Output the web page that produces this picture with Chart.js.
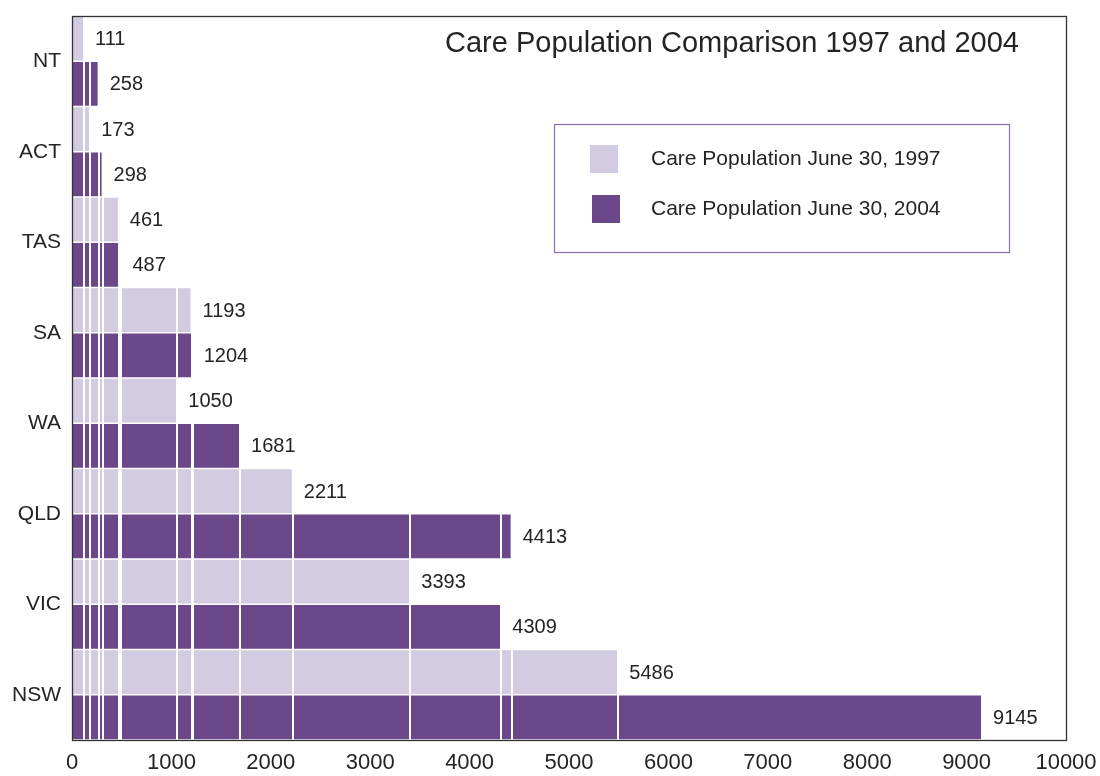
<!DOCTYPE html>
<html>
<head>
<meta charset="utf-8">
<script src="https://cdn.jsdelivr.net/npm/chart.js@4.4.1/dist/chart.umd.min.js"></script>
<style>
html,body{margin:0;padding:0;background:#ffffff;}
#wrap{width:1100px;height:776px;position:relative;}
</style>
</head>
<body>
<div id="wrap"><canvas id="c" width="1100" height="776"></canvas></div>
<script>
// ---- data ----
const categories = ['NT', 'ACT', 'TAS', 'SA', 'WA', 'QLD', 'VIC', 'NSW'];
const pop1997 = [111, 173, 461, 1193, 1050, 2211, 3393, 5486];
const pop2004 = [258, 298, 487, 1204, 1681, 4413, 4309, 9145];
const seriesLabels = ['Care Population June 30, 1997', 'Care Population June 30, 2004'];
const xTickValues = [0, 1000, 2000, 3000, 4000, 5000, 6000, 7000, 8000, 9000, 10000];
const titleText = 'Care Population Comparison 1997 and 2004';

// ---- styles ----
const colorLight = '#d2cbe1';
const colorDark = '#6c478a';
const textColor = '#242424';
const fontFamily = '"Liberation Sans", Arial, Helvetica, sans-serif';

const overlayPlugin = {
  id: 'overlay',
  afterDatasetsDraw(chart) {
    const ctx = chart.ctx;
    const a = chart.chartArea;
    const x = chart.scales.x;
    ctx.save();
    // white vertical lines at every data value
    const vals = [...pop1997, ...pop2004];
    ctx.strokeStyle = '#ffffff';
    ctx.lineWidth = 2;
    vals.forEach(v => {
      const px = Math.round(x.getPixelForValue(v)) + 1;
      ctx.beginPath();
      ctx.moveTo(px, a.top);
      ctx.lineTo(px, a.bottom);
      ctx.stroke();
    });
    // value labels
    ctx.fillStyle = textColor;
    ctx.font = '20px ' + fontFamily;
    ctx.textAlign = 'left';
    ctx.textBaseline = 'middle';
    chart.data.datasets.forEach((ds, i) => {
      const meta = chart.getDatasetMeta(i);
      meta.data.forEach((el, j) => {
        ctx.fillText(String(ds.data[j]), el.x + 12, el.y + 1);
      });
    });
    // title
    ctx.font = '29px ' + fontFamily;
    ctx.textAlign = 'center';
    ctx.fillText(titleText, a.left + 660, a.top + 28);
    // legend box
    const lx = a.left + 482, ly = a.top + 108, lw = 455, lh = 128;
    ctx.strokeStyle = '#8a6fa8';
    ctx.lineWidth = 1.2;
    ctx.strokeRect(lx + 0.5, ly + 0.5, lw, lh);
    ctx.font = '21px ' + fontFamily;
    ctx.textAlign = 'left';
    chart.data.datasets.forEach((ds, i) => {
      const sy = ly + 21 + i * 50;
      ctx.fillStyle = ds.backgroundColor;
      ctx.fillRect(lx + 36 + i * 2, sy, 28, 28);
      ctx.fillStyle = textColor;
      ctx.fillText(ds.label, lx + 97, sy + 14);
    });
    ctx.restore();
  },
  afterDraw(chart) {
    const ctx = chart.ctx;
    const a = chart.chartArea;
    ctx.save();
    ctx.strokeStyle = '#333333';
    ctx.lineWidth = 1.3;
    ctx.strokeRect(a.left + 0.5, a.top + 0.5, a.right - a.left, a.bottom - a.top);
    ctx.restore();
  }
};

new Chart(document.getElementById('c'), {
  type: 'bar',
  data: {
    labels: categories,
    datasets: [
      {
        label: seriesLabels[0],
        data: pop1997,
        backgroundColor: colorLight,
        borderColor: '#ffffff',
        borderWidth: {top: 1, bottom: 1, left: 0, right: 0},
        borderSkipped: false,
        categoryPercentage: 1,
        barPercentage: 1
      },
      {
        label: seriesLabels[1],
        data: pop2004,
        backgroundColor: colorDark,
        borderColor: '#ffffff',
        borderWidth: {top: 1, bottom: 1, left: 0, right: 0},
        borderSkipped: false,
        categoryPercentage: 1,
        barPercentage: 1
      }
    ]
  },
  options: {
    indexAxis: 'y',
    responsive: false,
    animation: false,
    layout: {padding: {top: 16, right: 34, bottom: 0, left: 0}},
    plugins: {
      legend: {display: false},
      tooltip: {enabled: false},
      title: {display: false}
    },
    scales: {
      x: {
        type: 'linear',
        min: 0,
        max: 10000,
        afterBuildTicks: s => { s.ticks = xTickValues.map(v => ({value: v})); },
        afterFit: s => { s.height = 36; s.paddingLeft = 0; s.paddingRight = 0; },
        grid: {display: false, drawTicks: false},
        border: {display: false},
        ticks: {
          autoSkip: false,
          maxRotation: 0,
          padding: 10,
          color: textColor,
          font: {family: fontFamily, size: 22},
          callback: v => String(v)
        }
      },
      y: {
        type: 'category',
        afterFit: s => { s.width = 72; s.paddingTop = 0; s.paddingBottom = 0; },
        grid: {display: false, drawTicks: false},
        border: {display: false},
        ticks: {
          padding: 11,
          color: textColor,
          font: {family: fontFamily, size: 21}
        }
      }
    }
  },
  plugins: [overlayPlugin]
});
</script>
</body>
</html>
